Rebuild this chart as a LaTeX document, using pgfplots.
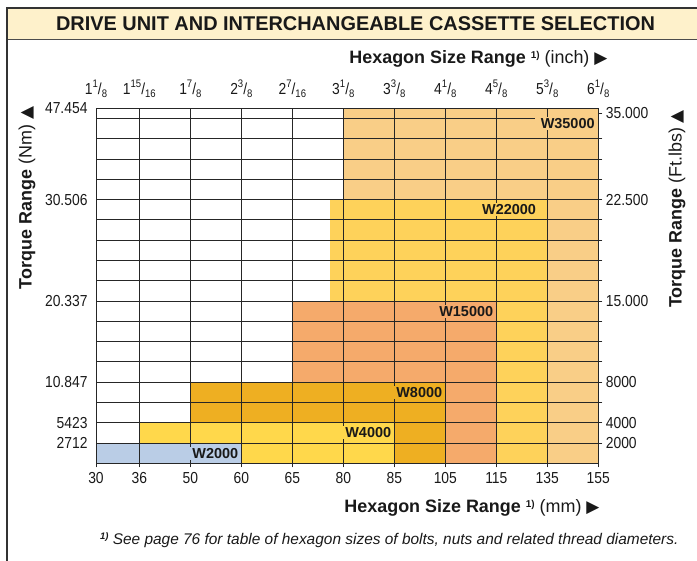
\documentclass[border=0pt]{standalone}
\usepackage{fontspec}
\setmainfont{Liberation Sans}
\newfontfamily\sym{DejaVu Sans}
\newfontfamily\tickfam[FakeStretch=0.87]{Liberation Sans}
\usepackage{pgfplots}
\pgfplotsset{compat=1.18}
\definecolor{cBanner}{HTML}{FEF1CB}
\definecolor{cBlue}{HTML}{BACDE6}
\definecolor{cYel}{HTML}{FFD84B}
\definecolor{cGold}{HTML}{EEAF22}
\definecolor{cSalmon}{HTML}{F5AA6B}
\definecolor{cYel2}{HTML}{FED25A}
\definecolor{cLight}{HTML}{F9CE87}
\newcommand{\fr}[3]{#1\raisebox{0.42em}{\fontsize{11}{12}\selectfont #2}/\raisebox{-0.2em}{\fontsize{11}{12}\selectfont #3}}
\newcommand{\tickfont}{\tickfam\fontsize{16}{17}\selectfont}
\newcommand{\labfont}{\fontsize{18}{20}\selectfont}
\begin{document}
\begin{tikzpicture}
\begin{scope}[x=1bp,y=1bp]
\path[use as bounding box] (0,0) rectangle (697,561);
\fill[cBanner] (7,522) rectangle (697,553);
\draw[black!70, line width=0.8bp] (7,522) -- (697,522);
\draw[black!80, line width=1.2bp] (7,0) -- (7,553) -- (697,553);
\node[font=\fontsize{20}{24}\selectfont\bfseries, text=black!90] at (355.5,537.5) {DRIVE UNIT AND INTERCHANGEABLE CASSETTE SELECTION};
\end{scope}

\begin{axis}[
  at={(96bp,97.7bp)}, anchor=south west, scale only axis,
  width=502.3bp, height=355bp,
  xmin=0, xmax=9.85, ymin=0, ymax=17.5,
  axis on top,
  axis line style={black!85, line width=1bp},
  grid=major,
  major grid style={black!85, line width=0.8bp},
  tick pos=left,
  tick align=outside,
  major tick length=4bp,
  xtick={0,0.85,1.85,2.85,3.85,4.85,5.85,6.85,7.85,8.85,9.85},
  xticklabels={30,36,50,60,65,80,85,105,115,135,155},
  ytick={1,2,...,16},
  yticklabels={2712,5423,,10.847,,,,20.337,,,,,30.506,,,},
  extra y ticks={17.5},
  extra y tick labels={47.454},
  extra y tick style={grid=none},
  ytick style={draw=none},
  xtick style={black!85, line width=0.8bp},
  tick label style={font=\tickfont, text=black!90},
  yticklabel style={xshift=-1bp},
  xticklabel style={yshift=-1.5bp},
]
\addplot[fill=cLight, draw=none] coordinates {(4.85,0) (9.85,0) (9.85,17.5) (4.85,17.5)} -- cycle;
\addplot[fill=cYel2, draw=none] coordinates {(4.59,0) (8.85,0) (8.85,13) (4.59,13)} -- cycle;
\addplot[fill=cSalmon, draw=none] coordinates {(3.85,0) (7.85,0) (7.85,8) (3.85,8)} -- cycle;
\addplot[fill=cGold, draw=none] coordinates {(1.85,0) (6.85,0) (6.85,4) (1.85,4)} -- cycle;
\addplot[fill=cYel, draw=none] coordinates {(0.85,0) (5.85,0) (5.85,2) (0.85,2)} -- cycle;
\addplot[fill=cBlue, draw=none] coordinates {(0,0) (2.85,0) (2.85,1) (0,1)} -- cycle;
\addplot[black!85, line width=0.8bp] coordinates {(0,17) (8.6,17)};
\end{axis}

\begin{axis}[
  at={(96bp,97.7bp)}, anchor=south west, scale only axis,
  width=502.3bp, height=355bp,
  xmin=0, xmax=9.85, ymin=0, ymax=17.5,
  axis x line*=top, axis y line*=right,
  axis line style={black!85, line width=1bp},
  tick align=outside,
  major tick length=4bp,
  xtick={0,0.85,1.85,2.85,3.85,4.85,5.85,6.85,7.85,8.85,9.85},
  xticklabels={\fr{1}{1}{8},\fr{1}{15}{16},\fr{1}{7}{8},\fr{2}{3}{8},\fr{2}{7}{16},\fr{3}{1}{8},\fr{3}{3}{8},\fr{4}{1}{8},\fr{4}{5}{8},\fr{5}{3}{8},\fr{6}{1}{8}},
  xtick style={draw=none},
  xticklabel style={yshift=3bp},
  ytick={1,2,...,16,17.25},
  yticklabels={2000,4000,,8000,,,,15.000,,,,,22.500,,,,35.000},
  ytick style={black!85, line width=0.8bp},
  tick label style={font=\tickfont, text=black!90},
]
\node[anchor=east, fill=cBlue, inner xsep=2bp, inner ysep=1.5bp, font=\fontsize{14.5}{16}\selectfont\bfseries, text=black!90] at (axis cs:2.85,0.5) [xshift=-1bp] {W2000};
\node[anchor=east, fill=cYel, inner xsep=2bp, inner ysep=1.5bp, font=\fontsize{14.5}{16}\selectfont\bfseries, text=black!90] at (axis cs:5.85,1.5) [xshift=-1bp] {W4000};
\node[anchor=east, fill=cGold, inner xsep=2bp, inner ysep=1.5bp, font=\fontsize{14.5}{16}\selectfont\bfseries, text=black!90] at (axis cs:6.85,3.5) [xshift=-1bp] {W8000};
\node[anchor=east, fill=cSalmon, inner xsep=2bp, inner ysep=1.5bp, font=\fontsize{14.5}{16}\selectfont\bfseries, text=black!90] at (axis cs:7.85,7.5) [xshift=-1bp] {W15000};
\node[anchor=east, fill=cYel2, inner xsep=2bp, inner ysep=1.5bp, font=\fontsize{14.5}{16}\selectfont\bfseries, text=black!90] at (axis cs:8.67,12.5) {W22000};
\node[anchor=east, fill=cLight, inner xsep=2bp, inner ysep=1.5bp, font=\fontsize{14.5}{16}\selectfont\bfseries, text=black!90] at (axis cs:9.82,16.75) {W35000};
\end{axis}

\begin{scope}[x=1bp,y=1bp]
\node[anchor=east, font=\labfont, text=black!90] at (611,502) {\textbf{Hexagon Size Range} {\fontsize{10}{11}\selectfont\raisebox{0.55em}{\textbf{1)}}} (inch) {\sym\fontsize{17}{18}\selectfont ▶}};
\node[anchor=east, font=\labfont, text=black!90] at (603,53) {\textbf{Hexagon Size Range} {\fontsize{10}{11}\selectfont\raisebox{0.55em}{\textbf{1)}}} (mm) {\sym\fontsize{17}{18}\selectfont ▶}};
\node[rotate=90, font=\labfont, text=black!90] at (27,363) {\textbf{Torque Range} (Nm) {\sym\fontsize{17}{18}\selectfont ▲}};
\node[rotate=90, font=\labfont, text=black!90] at (677,352) {\textbf{Torque Range} (Ft.lbs) {\sym\fontsize{17}{18}\selectfont ▲}};
\node[anchor=east, font=\fontsize{15.5}{17}\selectfont\itshape, text=black!90] at (682,21) {{\fontsize{9.5}{10}\selectfont\raisebox{0.55em}{\textbf{1)}}} See page 76 for table of hexagon sizes of bolts, nuts and related thread diameters.};
\end{scope}
\end{tikzpicture}
\end{document}
